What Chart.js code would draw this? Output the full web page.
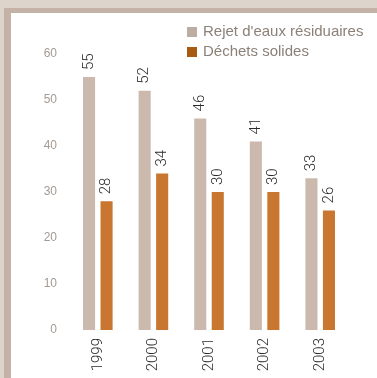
<!DOCTYPE html>
<html lang="fr">
<head>
  <meta charset="utf-8">
  <title>Rejets 1999-2003</title>
  <script src="https://cdn.jsdelivr.net/npm/chart.js@4.4.1/dist/chart.umd.min.js"></script>
<style>
body{
  margin:0;
  width:377px;
  height:378px;
  background:#ddd4cb;
  overflow:hidden;
  position:relative;
  font-family:"Liberation Sans", Arial, sans-serif;
}
.frame{
  position:absolute;
  left:4px; top:8px; right:0; bottom:0;
  background:#c3b2a5;
}
.panel{
  position:absolute;
  left:11px; top:13px; right:0; bottom:0;
  background:#ffffff;
}
#chart{
  position:absolute;
  left:11px; top:13px;
}
.legend{
  position:absolute;
  left:187px; top:21px;
  font-size:15px;
  color:#8c8179;
}
.legend div{
  height:20px;
  line-height:20px;
  white-space:nowrap;
}
.legend span{
  display:inline-block;
  width:10px; height:10px;
  margin-right:6px;
  vertical-align:-1px;
}
</style>
</head>
<body>
<div class="frame"></div>
<div class="panel"></div>
<canvas id="chart" width="366" height="365"></canvas>
<div class="legend" id="legend"></div>

<script>
// data
const years = ['1999', '2000', '2001', '2002', '2003'];
const seriesNames = ["Rejet d'eaux résiduaires", 'Déchets solides'];
const eauxResiduaires = [55, 52, 46, 41, 33];
const dechetsSolides = [28, 34, 30, 30, 26];
const yTicks = [0, 10, 20, 30, 40, 50, 60];

const barColors = ['#ccb9ad', '#c97631'];
const swatchColors = ['#bcaca2', '#a85b12'];

const numFont = "Roboto, 'Liberation Sans', sans-serif";

// numbers written upward above each bar
const valueLabels = {
  id: 'valueLabels',
  afterDatasetsDraw(chart) {
    const ctx = chart.ctx;
    ctx.save();
    ctx.font = '300 15px ' + numFont;
    ctx.fillStyle = '#2a2a2a';
    ctx.textAlign = 'left';
    ctx.textBaseline = 'middle';
    chart.data.datasets.forEach(function(ds, di) {
      chart.getDatasetMeta(di).data.forEach(function(bar, i) {
        ctx.save();
        ctx.translate(bar.x, bar.y - 7);
        ctx.rotate(-Math.PI / 2);
        ctx.fillText(String(ds.data[i]), 0, 0);
        ctx.restore();
      });
    });
    ctx.restore();
  }
};

const chart = new Chart(document.getElementById('chart'), {
  type: 'bar',
  data: {
    labels: years,
    datasets: [
      { label: seriesNames[0], data: eauxResiduaires, backgroundColor: barColors[0] },
      { label: seriesNames[1], data: dechetsSolides, backgroundColor: barColors[1] }
    ]
  },
  options: {
    responsive: false,
    animation: false,
    categoryPercentage: 0.63,
    barPercentage: 0.69,
    layout: { padding: { top: 41, right: 29, left: 0, bottom: 0 } },
    plugins: {
      legend: { display: false },
      tooltip: { enabled: false }
    },
    scales: {
      x: {
        grid: { display: false, drawTicks: false },
        border: { display: false },
        ticks: {
          minRotation: 90,
          maxRotation: 90,
          padding: 8,
          color: '#2a2a2a',
          font: { family: numFont, size: 15, weight: '300' }
        },
        afterFit: function(scale) { scale.height = 48; }
      },
      y: {
        min: 0,
        max: 60,
        grid: { display: false, drawTicks: false },
        border: { display: false },
        afterBuildTicks: function(scale) {
          scale.ticks = yTicks.map(function(v) { return { value: v }; });
        },
        ticks: {
          padding: 13,
          color: '#a39a93',
          font: { family: "'Liberation Sans', Arial, sans-serif", size: 12 }
        },
        afterFit: function(scale) { scale.width = 59; }
      }
    }
  },
  plugins: [valueLabels]
});

// legend as a two-line list
const legend = document.getElementById('legend');
chart.data.datasets.forEach(function(ds, i) {
  const row = document.createElement('div');
  const box = document.createElement('span');
  box.style.background = swatchColors[i];
  row.appendChild(box);
  row.appendChild(document.createTextNode(ds.label));
  legend.appendChild(row);
});
</script>
</body>
</html>
